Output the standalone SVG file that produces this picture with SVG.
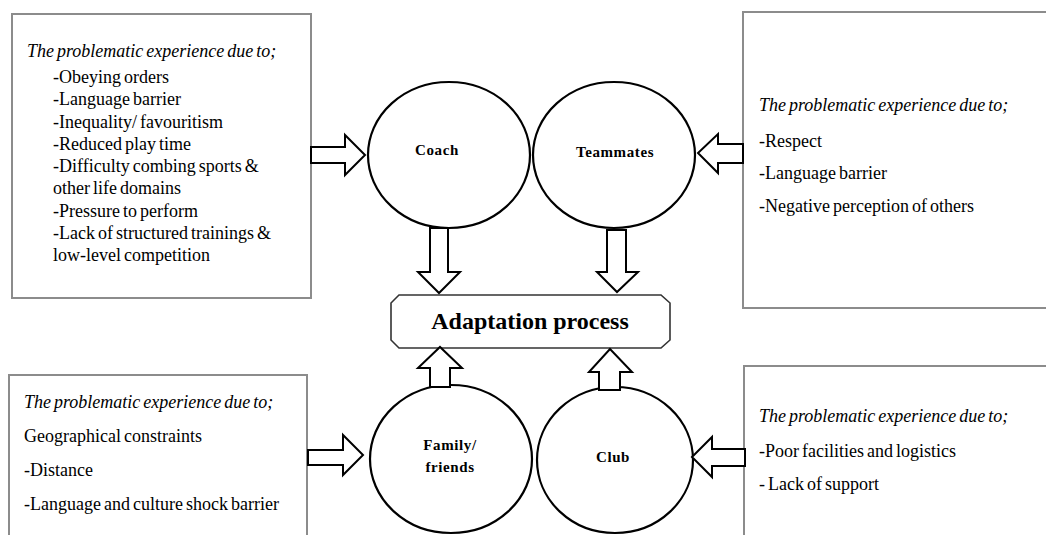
<svg xmlns="http://www.w3.org/2000/svg" width="1046" height="535" viewBox="0 0 1046 535">
<style>
.box{fill:#fff;stroke:#8c8c8c;stroke-width:2}
.circ{fill:#fff;stroke:#000;stroke-width:2.2}
.arr{fill:#fff;stroke:#000;stroke-width:2;stroke-linejoin:miter}
.t{font-family:'Liberation Serif','Times New Roman',Times,serif;font-size:18px;fill:#000;word-spacing:-1.5px}
.ti{font-style:italic}
.lbl{font-family:'Liberation Serif','Times New Roman',Times,serif;font-size:15px;font-weight:bold;letter-spacing:0.6px;text-anchor:middle;fill:#000}
.ad{font-family:'Liberation Serif','Times New Roman',Times,serif;font-size:24px;font-weight:bold;text-anchor:middle;fill:#000}
</style>
<rect width="1046" height="535" fill="#fff"/>

<g id="box-coach">
<rect class="box" x="12" y="14" width="299" height="284"/>
<text class="t ti" x="27" y="57">The problematic experience due to;</text>
<text class="t" x="53" y="83">-Obeying orders</text>
<text class="t" x="53" y="105">-Language barrier</text>
<text class="t" x="53" y="128">-Inequality/ favouritism</text>
<text class="t" x="53" y="150">-Reduced play time</text>
<text class="t" x="53" y="172">-Difficulty combing sports &amp;</text>
<text class="t" x="53" y="194">other life domains</text>
<text class="t" x="53" y="217">-Pressure to perform</text>
<text class="t" x="53" y="239">-Lack of structured trainings &amp;</text>
<text class="t" x="53" y="261">low-level competition</text>
</g>

<g id="box-teammates">
<rect class="box" x="743" y="12" width="310" height="296"/>
<text class="t ti" x="759" y="111">The problematic experience due to;</text>
<text class="t" x="759" y="147">-Respect</text>
<text class="t" x="759" y="179">-Language barrier</text>
<text class="t" x="759" y="212">-Negative perception of others</text>
</g>

<g id="box-family">
<rect class="box" x="9" y="375" width="298" height="170"/>
<text class="t ti" x="24" y="408">The problematic experience due to;</text>
<text class="t" x="24" y="442">Geographical constraints</text>
<text class="t" x="24" y="476">-Distance</text>
<text class="t" x="24" y="510">-Language and culture shock barrier</text>
</g>

<g id="box-club">
<rect class="box" x="744" y="366" width="310" height="180"/>
<text class="t ti" x="759" y="422">The problematic experience due to;</text>
<text class="t" x="759" y="457">-Poor facilities and logistics</text>
<text class="t" x="759" y="490">- Lack of support</text>
</g>

<g id="coach">
<ellipse class="circ" cx="449" cy="155" rx="81" ry="73"/>
<text class="lbl" x="437" y="155">Coach</text>
</g>
<g id="teammates">
<ellipse class="circ" cx="614" cy="155" rx="81" ry="73"/>
<text class="lbl" x="615" y="157">Teammates</text>
</g>
<g id="family">
<ellipse class="circ" cx="451" cy="459" rx="81" ry="74"/>
<text class="lbl" x="450" y="450">Family/</text>
<text class="lbl" x="450" y="472">friends</text>
</g>
<g id="club">
<ellipse class="circ" cx="615" cy="460" rx="78" ry="73"/>
<text class="lbl" x="613" y="462">Club</text>
</g>

<g id="adaptation">
<path d="M399,295 L661,295 L670,303 L670,340 L661,348 L399,348 L391,340 L391,303 Z" fill="#fff" stroke="#333" stroke-width="1.6"/>
<text class="ad" x="530" y="329">Adaptation process</text>
</g>

<g id="connectors">
<path class="arr" d="M311,147 L345,147 L345,135 L365,155 L345,175 L345,163 L311,163 Z"/>
<path class="arr" d="M743,144 L718,144 L718,134 L698,153 L718,173 L718,163 L743,163 Z"/>
<path class="arr" d="M308,450 L343,450 L343,435 L363,455 L343,475 L343,465 L308,465 Z"/>
<path class="arr" d="M745,449 L712,449 L712,437 L692,457 L712,477 L712,466 L745,466 Z"/>
<path class="arr" d="M430,228 L448,228 L448,272 L460,272 L439,293 L418,272 L430,272 Z"/>
<path class="arr" d="M607,230 L626,230 L626,272 L638,272 L617,292 L597,272 L607,272 Z"/>
<path class="arr" d="M430,387 L450,387 L450,368 L462,368 L440,347 L418,368 L430,368 Z"/>
<path class="arr" d="M599,390 L620,390 L620,372 L632,372 L610,349 L589,372 L599,372 Z"/>
</g>
</svg>
